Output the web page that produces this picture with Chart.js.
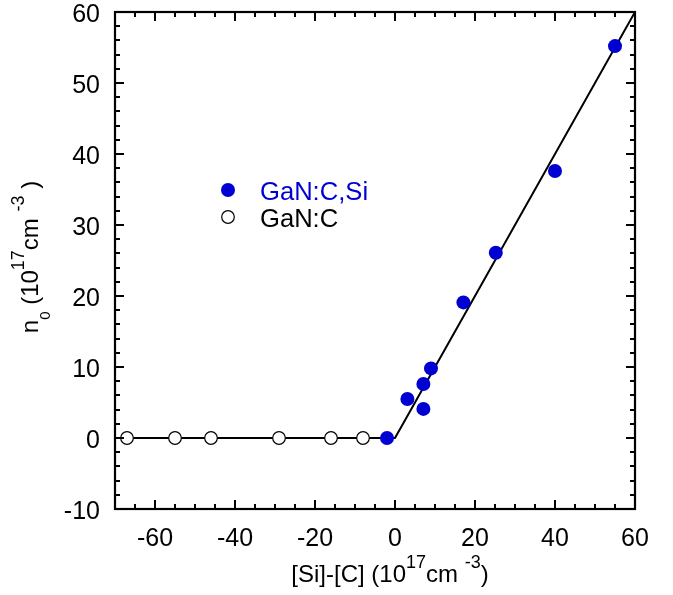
<!DOCTYPE html>
<html>
<head>
<meta charset="utf-8">
<script src="https://cdn.jsdelivr.net/npm/chart.js@4.4.1/dist/chart.umd.min.js"></script>
<style>
  html, body { margin: 0; padding: 0; background: #fff; }
  #wrap { width: 673px; height: 595px; }
</style>
</head>
<body>
<div id="wrap"><canvas id="n0Chart" width="673" height="595"></canvas></div>
<script>
// GaN:C,Si samples (filled) and GaN:C samples (open)
const cSiX = [-2, 3.1, 7.1, 7.1, 9, 17.1, 25.2, 40, 55];
const cSiY = [0, 5.5, 4.1, 7.6, 9.8, 19.1, 26.1, 37.6, 55.2];
const cX = [-67, -55, -46, -29, -16, -8];
const cY = [0, 0, 0, 0, 0, 0];

// piecewise model line n0 = max(0, [Si]-[C])
const fitX = [-70, 0, 60];
const fitY = [0, 0, 60];

const xTicks = [-60, -40, -20, 0, 20, 40, 60];
const yTicks = [-10, 0, 10, 20, 30, 40, 50, 60];

const BLUE = '#0000d2';
const FONT = 'Arial, "Liberation Sans", sans-serif';

function pts(xs, ys) {
    return xs.map((x, i) => ({ x: x, y: ys[i] }));
}

// draws a run of text pieces with super/subscripts
function richText(ctx, parts, x, y) {
    let total = 0;
    parts.forEach(p => {
        ctx.font = p.size + 'px ' + FONT;
        p.w = ctx.measureText(p.t).width;
        total += p.w;
    });
    let cx = x - total / 2;
    ctx.textAlign = 'left';
    ctx.textBaseline = 'alphabetic';
    parts.forEach(p => {
        ctx.font = p.size + 'px ' + FONT;
        ctx.fillText(p.t, cx, y + (p.dy || 0));
        cx += p.w;
    });
}

const framePlugin = {
    id: 'frame',
    afterDraw(chart) {
        const ctx = chart.ctx;
        const a = chart.chartArea;
        const xs = chart.scales.x, ys = chart.scales.y;
        ctx.save();
        ctx.strokeStyle = '#000';
        ctx.lineWidth = 2.2;
        ctx.strokeRect(a.left, a.top, a.right - a.left, a.bottom - a.top);

        // inward ticks on all four sides
        ctx.lineWidth = 2;
        ctx.beginPath();
        for (let v = -65; v <= 60; v += 5) {
            const px = Math.round(xs.getPixelForValue(v));
            const len = v % 20 === 0 ? 9 : 5;
            ctx.moveTo(px, a.bottom); ctx.lineTo(px, a.bottom - len);
            ctx.moveTo(px, a.top); ctx.lineTo(px, a.top + len);
        }
        for (let v = -10; v <= 60; v += 2) {
            const py = Math.round(ys.getPixelForValue(v));
            const len = v % 10 === 0 ? 9 : 5;
            ctx.moveTo(a.left, py); ctx.lineTo(a.left + len, py);
            ctx.moveTo(a.right, py); ctx.lineTo(a.right - len, py);
        }
        ctx.stroke();

        // legend
        ctx.fillStyle = BLUE;
        ctx.beginPath(); ctx.arc(228, 190, 7, 0, Math.PI * 2); ctx.fill();
        ctx.fillStyle = '#fff';
        ctx.lineWidth = 1.2;
        ctx.beginPath(); ctx.arc(228, 217, 6.3, 0, Math.PI * 2); ctx.fill(); ctx.stroke();
        ctx.font = '25.6px ' + FONT;
        ctx.textAlign = 'left';
        ctx.textBaseline = 'middle';
        ctx.fillStyle = BLUE;
        ctx.fillText('GaN:C,Si', 260, 193);
        ctx.fillStyle = '#000';
        ctx.fillText('GaN:C', 260, 220);

        // axis titles
        ctx.fillStyle = '#000';
        richText(ctx, [
            { t: '[Si]-[C] (10', size: 24 },
            { t: '17', size: 18, dy: -14 },
            { t: 'cm ', size: 24 },
            { t: '-3', size: 18, dy: -14 },
            { t: ')', size: 24 }
        ], 390, 582);

        ctx.translate(38, 257);
        ctx.rotate(-Math.PI / 2);
        richText(ctx, [
            { t: 'n', size: 24 },
            { t: '0', size: 15, dy: 12 },
            { t: ' (10', size: 24 },
            { t: '17', size: 18, dy: -14 },
            { t: 'cm ', size: 24 },
            { t: '-3', size: 18, dy: -14 },
            { t: ' )', size: 24 }
        ], 0, 0);
        ctx.restore();
    }
};

new Chart(document.getElementById('n0Chart'), {
    type: 'scatter',
    data: {
        datasets: [
            {
                label: 'GaN:C,Si',
                data: pts(cSiX, cSiY),
                backgroundColor: BLUE,
                borderColor: BLUE,
                borderWidth: 0,
                pointRadius: 7
            },
            {
                label: 'GaN:C',
                data: pts(cX, cY),
                backgroundColor: '#fff',
                borderColor: '#000',
                borderWidth: 1.2,
                pointRadius: 6.3
            },
            {
                type: 'line',
                label: 'fit',
                data: pts(fitX, fitY),
                borderColor: '#000',
                borderWidth: 2,
                pointRadius: 0,
                fill: false,
                tension: 0
            }
        ]
    },
    options: {
        responsive: false,
        animation: false,
        layout: { padding: { top: 12, right: 38, left: 0, bottom: 0 } },
        plugins: {
            legend: { display: false },
            tooltip: { enabled: false }
        },
        scales: {
            x: {
                type: 'linear',
                min: -70,
                max: 60,
                grid: { display: false, drawTicks: false },
                border: { display: false },
                afterBuildTicks: s => { s.ticks = xTicks.map(v => ({ value: v })); },
                afterFit: s => { s.height = 86; s.paddingLeft = 0; s.paddingRight = 0; },
                ticks: {
                    color: '#000',
                    padding: 15,
                    maxRotation: 0,
                    font: { family: FONT, size: 25 }
                }
            },
            y: {
                type: 'linear',
                min: -10,
                max: 60,
                grid: { display: false, drawTicks: false },
                border: { display: false },
                afterBuildTicks: s => { s.ticks = yTicks.map(v => ({ value: v })); },
                afterFit: s => { s.width = 115; s.paddingTop = 0; s.paddingBottom = 0; },
                ticks: {
                    color: '#000',
                    padding: 15,
                    labelOffset: 3,
                    font: { family: FONT, size: 25 }
                }
            }
        }
    },
    plugins: [framePlugin]
});
</script>
</body>
</html>
